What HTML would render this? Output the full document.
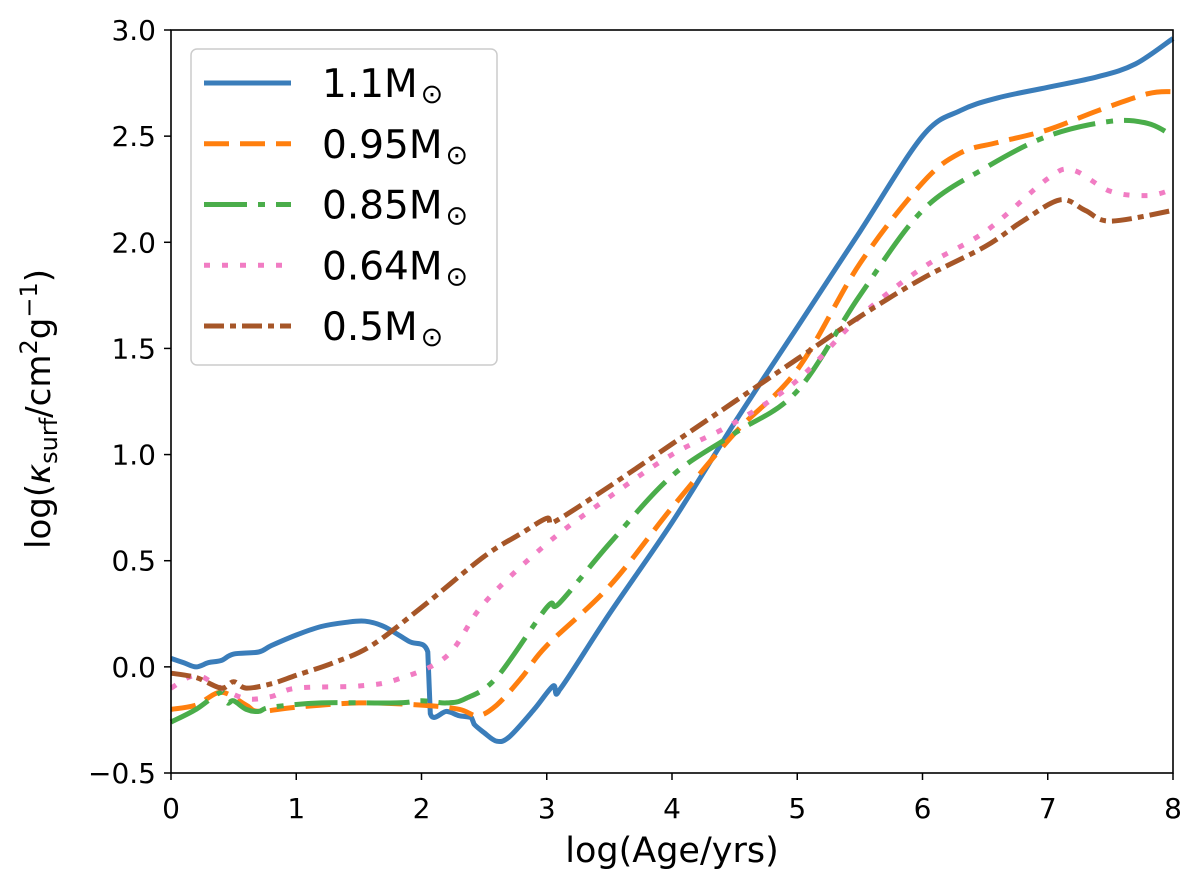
<!DOCTYPE html>
<html><head><meta charset="utf-8"><style>
body{margin:0;background:#fff}
text{font-family:"DejaVu Sans","Liberation Sans",sans-serif}
</style></head><body>
<svg id="chart" width="1200" height="887" xmlns="http://www.w3.org/2000/svg">
<g id="series"></g>
<rect x="171" y="30" width="1002" height="743" fill="none" stroke="#000" stroke-width="1.6"/>
<g id="axes"></g>
<g>
<rect x="191" y="49" width="306" height="316" rx="6" fill="#fff" fill-opacity="0.8" stroke="#ccc" stroke-width="1.5"/>
<g id="legend-items"></g>
</g>
<text x="672" y="862" font-size="35" text-anchor="middle">log(Age/yrs)</text>
<text transform="translate(50,409) rotate(-90)" font-size="34" text-anchor="middle">log(<tspan font-style="italic">κ</tspan><tspan font-size="24" dy="7">surf</tspan><tspan dy="-7">/cm</tspan><tspan font-size="24" dy="-13">2</tspan><tspan dy="13">g</tspan><tspan font-size="24" dy="-13">−1</tspan><tspan dy="13">)</tspan></text>
</svg>
<script>
const xTicks=[0,1,2,3,4,5,6,7,8];
const yTicks=[-0.5,0,0.5,1,1.5,2,2.5,3];
const yTickLabels=["−0.5","0.0","0.5","1.0","1.5","2.0","2.5","3.0"];
const names=["1.1","0.95","0.85","0.64","0.5"];
const s11x=[0,0.1,0.2,0.3,0.4,0.5,0.7,0.8,1.0,1.2,1.4,1.55,1.7,1.9,2.05,2.07,2.2,2.3,2.4,2.42,2.5,2.6,2.7,2.9,3.05,3.1,3.5,4.0,4.5,5.0,5.5,6.0,6.3,6.6,7.0,7.4,7.7,8.0];
const s11y=[0.04,0.02,0.0,0.02,0.03,0.06,0.07,0.1,0.15,0.19,0.21,0.215,0.19,0.12,0.07,-0.22,-0.21,-0.23,-0.24,-0.27,-0.31,-0.35,-0.33,-0.2,-0.09,-0.11,0.25,0.68,1.15,1.6,2.05,2.5,2.62,2.68,2.73,2.78,2.84,2.96];
const s095x=[0,0.2,0.4,0.6,0.7,1.0,1.5,2.0,2.3,2.45,2.6,2.8,3.0,3.5,4.0,4.5,5.0,5.5,6.0,6.3,6.6,7.0,7.4,7.8,8.0];
const s095y=[-0.2,-0.18,-0.12,-0.18,-0.21,-0.19,-0.17,-0.18,-0.2,-0.23,-0.18,-0.05,0.1,0.38,0.75,1.1,1.4,1.9,2.28,2.42,2.47,2.53,2.62,2.7,2.71];
const s085x=[0,0.2,0.4,0.45,0.5,0.6,0.7,0.8,1.2,1.8,2.0,2.2,2.35,2.6,3.0,3.1,3.5,4.0,4.5,5.0,5.5,6.0,6.5,7.0,7.5,7.8,8.0];
const s085y=[-0.26,-0.2,-0.12,-0.17,-0.16,-0.2,-0.21,-0.19,-0.17,-0.17,-0.16,-0.17,-0.15,-0.05,0.28,0.3,0.58,0.9,1.1,1.3,1.75,2.15,2.35,2.5,2.57,2.56,2.5];
const s064x=[0,0.2,0.4,0.6,0.8,1.0,1.5,1.8,2.2,2.5,3.0,3.5,4.0,4.5,5.0,5.5,6.0,6.5,7.0,7.2,7.5,7.8,8.0];
const s064y=[-0.1,-0.04,-0.1,-0.15,-0.14,-0.1,-0.09,-0.06,0.05,0.3,0.58,0.8,1.0,1.15,1.35,1.65,1.88,2.05,2.3,2.34,2.24,2.22,2.25];
const s05x=[0,0.2,0.4,0.5,0.6,0.8,1.0,1.3,1.6,2.0,2.5,2.8,3.0,3.05,3.5,4.0,4.5,5.0,5.5,6.0,6.5,6.8,7.1,7.3,7.5,8.0];
const s05y=[-0.03,-0.05,-0.1,-0.07,-0.1,-0.08,-0.04,0.02,0.1,0.28,0.52,0.63,0.7,0.68,0.85,1.05,1.25,1.45,1.65,1.83,1.98,2.1,2.2,2.15,2.1,2.15];
const X=v=>171+v*(1002/8);
const Y=v=>773-(v+0.5)*(743/3.5);
const NS="http://www.w3.org/2000/svg";
const series=[[s11x,s11y,"#3a7dba",""],[s095x,s095y,"#ff7f0e","25 11"],[s085x,s085y,"#4aad4a","43 11 7 11"],[s064x,s064y,"#f17cc3","6 12"],[s05x,s05y,"#a65628","20 6 6 6"]];
const sg=document.getElementById('series'),lg=document.getElementById('legend-items'),ax=document.getElementById('axes');
function mk(t,a,p){const e=document.createElementNS(NS,t);for(const k in a)e.setAttribute(k,a[k]);p.appendChild(e);return e;}
function smooth(P){
 let d='M'+P[0][0].toFixed(1)+','+P[0][1].toFixed(1);
 for(let i=0;i<P.length-1;i++){
  const p0=P[i-1]||P[i],p1=P[i],p2=P[i+1],p3=P[i+2]||p2;
  const steep=Math.abs(p2[0]-p1[0])<4;
  if(steep){d+='L'+p2[0].toFixed(1)+','+p2[1].toFixed(1);continue;}
  const k=1/6;
  const c1=[p1[0]+(p2[0]-p0[0])*k,p1[1]+(p2[1]-p0[1])*k];
  const c2=[p2[0]-(p3[0]-p1[0])*k,p2[1]-(p3[1]-p1[1])*k];
  c1[0]=Math.min(Math.max(c1[0],p1[0]),p2[0]);c2[0]=Math.min(Math.max(c2[0],p1[0]),p2[0]);
  d+='C'+c1.map(v=>v.toFixed(1)).join(',')+' '+c2.map(v=>v.toFixed(1)).join(',')+' '+p2[0].toFixed(1)+','+p2[1].toFixed(1);
 }
 return d;
}
series.forEach((s,i)=>{
 const P=s[0].map((x,j)=>[X(x),Y(s[1][j])]);
 const p=mk('path',{d:smooth(P),fill:'none',stroke:s[2],'stroke-width':5,'stroke-dasharray':s[3],'stroke-linejoin':'round'},sg);
 
 
 const ly=83+i*60.75;
 const l=mk('line',{x1:204,x2:291,y1:ly,y2:ly,stroke:s[2],'stroke-width':5,'stroke-dasharray':s[3]},lg);
 
 
 const t=mk('text',{x:322,y:ly+14,'font-size':39},lg);
 
 
 t.innerHTML=names[i]+'M<tspan font-size="27" dy="6" dx="3">⊙</tspan>';
});
xTicks.forEach(v=>{
 const l=mk('line',{x1:X(v),x2:X(v),y1:773,y2:780,stroke:'#000','stroke-width':1.5},ax);
 
 
 const t=mk('text',{x:X(v),y:818,'font-size':28,'text-anchor':'middle'},ax);
 
 
 t.textContent=String(v);
});
yTicks.forEach((v,i)=>{
 const l=mk('line',{x1:164,x2:171,y1:Y(v),y2:Y(v),stroke:'#000','stroke-width':1.5},ax);
 
 
 const t=mk('text',{x:156,y:Y(v)+10,'font-size':28,'text-anchor':'end'},ax);
 
 
 t.textContent=yTickLabels[i];
});
</script>
</body></html>
